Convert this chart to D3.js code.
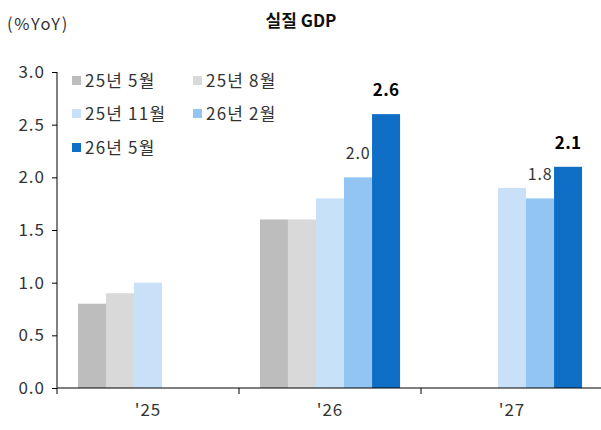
<!DOCTYPE html>
<html>
<head>
<meta charset="utf-8">
<script src="https://cdn.jsdelivr.net/npm/d3@7"></script>
<style>
  body { margin: 0; background: #fff; }
  text { font-family: "Noto Sans CJK KR", "Noto Sans", sans-serif; }
</style>
</head>
<body>
<div id="viz"></div>
<script>
// data
var years = ["'25", "'26", "'27"];
var seriesNames = ["25년 5월", "25년 8월", "25년 11월", "26년 2월", "26년 5월"];
var seriesColors = ["#bdbdbd", "#d9d9d9", "#c9e1f8", "#92c5f3", "#0f6fc6"];
var s25May = [0.8, 1.6, null];
var s25Aug = [0.9, 1.6, null];
var s25Nov = [1.0, 1.8, 1.9];
var s26Feb = [null, 2.0, 1.8];
var s26May = [null, 2.6, 2.1];
var yTicks = [0, 0.5, 1.0, 1.5, 2.0, 2.5, 3.0];
var values = [s25May, s25Aug, s25Nov, s26Feb, s26May];
var labelled = [3, 4];      // series that get value labels
var boldLabel = [false, false, false, false, true];

var W = 601, H = 430;
var margin = {top: 72, right: -2, bottom: 42, left: 57},
    width = W - margin.left - margin.right,
    height = H - margin.top - margin.bottom;

var svg = d3.select("#viz")
    .append("svg")
    .attr("width", W)
    .attr("height", H);

// title + unit
svg.append("text")
    .attr("x", 301).attr("y", 27)
    .attr("text-anchor", "middle")
    .attr("font-size", 17).attr("font-weight", "bold")
    .attr("fill", "#111")
    .text("실질 GDP");

svg.append("text")
    .attr("x", 7).attr("y", 30)
    .attr("font-size", 16.5)
    .attr("letter-spacing", 1.6)
    .attr("fill", "#333")
    .text("(%YoY)");

var g = svg.append("g")
    .attr("transform", "translate(" + margin.left + "," + margin.top + ")");

var x0 = d3.scaleBand()
    .domain(years)
    .range([0, width])
    .paddingInner(0.23)
    .paddingOuter(0.115);

var x1 = d3.scaleBand()
    .domain(d3.range(seriesNames.length))
    .range([0, x0.bandwidth()]);

var y = d3.scaleLinear()
    .domain([0, 3])
    .range([height, 0]);

// bars
years.forEach(function (yr, i) {
    var grp = g.append("g")
        .attr("transform", "translate(" + x0(yr) + ",0)");
    values.forEach(function (vals, s) {
        var v = vals[i];
        if (v == null) return;
        grp.append("rect")
            .attr("x", x1(s))
            .attr("y", y(v))
            .attr("width", x1.bandwidth())
            .attr("height", y(0) - y(v))
            .attr("fill", seriesColors[s]);
        if (labelled.indexOf(s) >= 0) {
            grp.append("text")
                .attr("x", x1(s) + x1.bandwidth() / 2)
                .attr("y", y(v) - 18)
                .attr("text-anchor", "middle")
                .attr("font-size", boldLabel[s] ? 17 : 16)
                .attr("font-weight", boldLabel[s] ? "bold" : "normal")
                .attr("letter-spacing", boldLabel[s] ? 0.3 : 0.8)
                .attr("fill", boldLabel[s] ? "#000" : "#333")
                .text(d3.format(".1f")(v));
        }
    });
});

// y axis
var yAxis = g.append("g")
    .call(d3.axisLeft(y).tickValues(yTicks).tickSize(5).tickPadding(7)
        .tickFormat(d3.format(".1f")));
yAxis.select(".domain").attr("stroke", "#000").attr("d", "M0," + height + "V0");
yAxis.selectAll("line").attr("stroke", "#000");
yAxis.selectAll("text").attr("font-size", 17).attr("fill", "#333")
    .attr("letter-spacing", 1)
    .attr("font-family", "Noto Sans CJK KR, sans-serif");

// x axis: ticks sit between the categories
var bounds = years.map(function (yr) { return x0(yr) - x0.step() * x0.paddingInner() / 2; });
var xAxisG = g.append("g").attr("transform", "translate(0," + height + ")");
xAxisG.append("line")
    .attr("x1", 0).attr("x2", width)
    .attr("stroke", "#000");
xAxisG.selectAll(".tk").data(bounds).enter().append("line")
    .attr("x1", function (d) { return d; })
    .attr("x2", function (d) { return d; })
    .attr("y1", 0).attr("y2", 6)
    .attr("stroke", "#000");
xAxisG.selectAll(".lbl").data(years).enter().append("text")
    .attr("x", function (d) { return x0(d) + x0.bandwidth() / 2; })
    .attr("y", 28)
    .attr("text-anchor", "middle")
    .attr("font-size", 17)
    .attr("letter-spacing", 1)
    .attr("fill", "#333")
    .text(function (d) { return d; });

// legend
var legendPos = [[72, 76], [193, 76], [72, 109], [193, 109], [72, 143]];
seriesNames.forEach(function (name, s) {
    var p = legendPos[s];
    svg.append("rect")
        .attr("x", p[0]).attr("y", p[1])
        .attr("width", 9).attr("height", 9)
        .attr("fill", seriesColors[s]);
    svg.append("text")
        .attr("x", p[0] + 13).attr("y", p[1] + 11)
        .attr("font-size", 17)
        .attr("letter-spacing", 1.2)
        .attr("fill", "#333")
        .text(name);
});
</script>
</body>
</html>
